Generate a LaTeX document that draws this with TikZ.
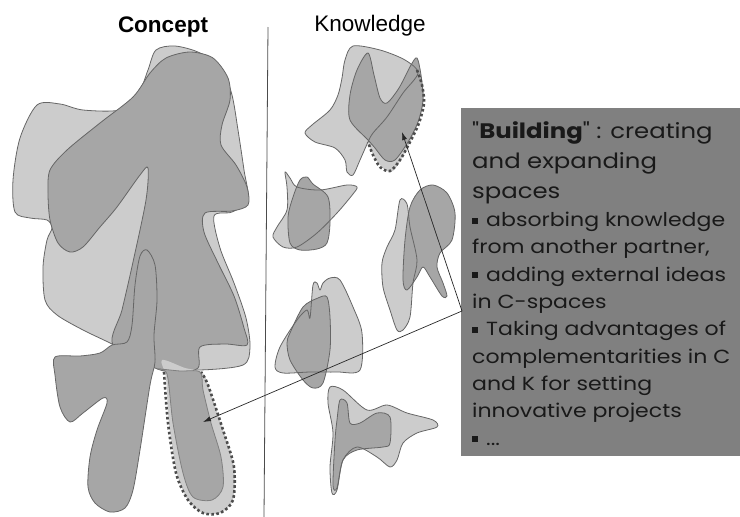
\documentclass[tikz,border=0pt]{standalone}
\usepackage{fontspec}
\setmainfont{Liberation Sans}
\newfontfamily\gothic[FakeStretch=1.16]{Poppins}
\usetikzlibrary{arrows.meta}

\newcommand{\sqb}{\rule[3pt]{6pt}{6pt}\hspace{8pt}}

% concept spaces
\newcommand{\cBig}{plot[smooth cycle] coordinates {(37,105) (60,104) (83,110) (120,110) (138,95) (148,70) (156,50) (175,46) (200,53) (222,70) (232,95) (238,130) (244,170) (248,200) (232,212) (214,216) (220,248) (234,283) (246,318) (250,347) (243,365) (200,370) (160,368) (110,343) (83,330) (57,315) (45,300) (43,267) (47,240) (52,228) (47,220) (30,218) (15,212) (13,180) (20,138)}}
\newcommand{\cBody}{plot[smooth cycle] coordinates {(150,73) (166,58) (190,52) (213,58) (228,78) (230,100) (222,125) (221,145) (236,165) (247,187) (248,205) (232,211) (205,213) (204,232) (218,263) (234,296) (244,328) (247,345) (225,344) (200,347) (198,368) (175,372) (155,368) (113,345) (122,310) (133,262) (146,200) (148,168) (140,175) (117,207) (100,227) (83,247) (70,252) (58,243) (50,220) (48,193) (50,170) (67,150) (100,123) (133,97)}}
\newcommand{\cHand}{plot[smooth cycle] coordinates {(147,250) (155,265) (157,300) (154,335) (155,362) (150,385) (140,450) (133,490) (125,508) (110,512) (95,503) (88,487) (90,457) (97,430) (107,403) (103,398) (83,413) (70,422) (60,407) (55,375) (55,357) (80,356) (100,353) (112,345) (127,342) (132,325) (135,285) (140,256)}}
\newcommand{\cTailNew}{plot[smooth cycle] coordinates {(162,360) (166,378) (169,423) (177,473) (188,500) (203,513) (220,513) (233,500) (234,467) (224,433) (208,385) (202,372) (185,368)}}
\newcommand{\cTail}{plot[smooth cycle] coordinates {(157,369) (167,374) (173,423) (183,473) (193,497) (212,500) (223,487) (221,457) (211,423) (203,390) (200,372) (180,371)}}

% knowledge spaces
\newcommand{\kOneA}{plot[smooth cycle] coordinates {(345,60) (353,46) (380,50) (405,60) (418,73) (403,93) (387,117) (373,133) (368,142) (360,160) (353,175) (347,172) (345,160) (335,148) (315,142) (305,133) (312,125) (330,110) (338,95) (342,78)}}
\newcommand{\kOneB}{plot[smooth cycle] coordinates {(350,120) (350,95) (357,70) (368,53) (374,75) (380,98) (387,103) (399,88) (411,65) (417,58) (421,75) (423,100) (418,122) (408,142) (395,160) (385,160) (375,148) (368,140)}}
\newcommand{\kOneNew}{plot[smooth cycle] coordinates {(368,140) (375,158) (385,170) (393,171) (402,158) (412,138) (421,115) (424,95) (421,78) (417,68) (400,110) (380,135)}}
\newcommand{\kTwoA}{plot[smooth cycle] coordinates {(285,172) (290,178) (297,187) (320,190) (347,185) (357,187) (353,194) (337,213) (317,233) (297,247) (283,247) (273,237) (277,227) (287,210) (287,187)}}
\newcommand{\kTwoB}{plot[smooth cycle] coordinates {(300,180) (307,177) (313,184) (328,197) (330,223) (327,243) (317,249) (300,250) (290,243) (288,217) (293,197)}}
\newcommand{\kThreeA}{plot[smooth cycle] coordinates {(400,200) (407,204) (410,227) (417,260) (413,283) (410,317) (403,330) (397,330) (390,310) (383,287) (382,263) (387,247) (395,230)}}
\newcommand{\kThreeB}{plot[smooth cycle] coordinates {(405,240) (410,207) (420,190) (433,185) (447,193) (455,213) (452,240) (440,253) (437,267) (443,283) (447,296) (442,296) (430,277) (423,267) (417,277) (407,290) (403,280)}}
\newcommand{\kFourA}{plot[smooth cycle] coordinates {(330,278) (340,280) (353,307) (362,333) (360,370) (337,372) (310,372) (283,373) (275,367) (280,347) (297,320) (307,310) (310,318) (313,285) (317,283) (320,290) (323,283)}}
\newcommand{\kFourB}{plot[smooth cycle] coordinates {(290,333) (303,307) (318,298) (327,297) (330,317) (330,350) (323,383) (313,388) (303,380) (290,360) (287,343)}}
\newcommand{\kFiveA}{plot[smooth cycle] coordinates {(330,387) (343,390) (367,410) (387,405) (407,413) (433,420) (437,427) (417,433) (403,443) (397,460) (390,467) (377,457) (357,447) (343,460) (337,490) (332,493) (330,467) (333,433) (328,403)}}
\newcommand{\kFiveB}{plot[smooth cycle] coordinates {(340,400) (347,403) (350,423) (360,423) (377,413) (390,417) (390,443) (383,447) (357,450) (343,460) (337,488) (333,485) (335,440) (337,420)}}

\tikzset{
  lightblob/.style={fill=black!20},
  darkblob/.style={fill=black!35, draw=black!60, line width=0.8pt},
  rim/.style={draw=black!60, line width=0.8pt},
  newpart/.style={draw=black!70, line width=2.6pt, dash pattern=on 2.6pt off 2.4pt},
  link/.style={-{Latex[length=8pt,width=5pt]}, line width=0.7pt, black!85},
  title/.style={font=\fontsize{22.5}{26}\selectfont, anchor=base},
}

\begin{document}
\begin{tikzpicture}[x=1pt, y=-1pt]
  \useasboundingbox (0,0) rectangle (740,517);

  \node[title, font=\bfseries\fontsize{22.5}{26}\selectfont] (concept) at (163,32) {Concept};
  \node[title] (knowledge) at (370,31) {Knowledge};
  \draw[black!70, line width=0.8pt] (268,27) -- (264,517);

  \fill[lightblob] \cBig;  \draw[rim] \cBig;
  \draw[darkblob] \cBody;
  \draw[darkblob] \cHand;
  \fill[lightblob] \cTailNew;
  \draw[newpart] plot[smooth] coordinates {(164,372) (168,423) (176,473) (188,500) (203,513) (220,513) (233,500) (234,467) (224,433) (208,385) (201,372)};
  \draw[darkblob, draw=black!50] \cTail;

  \fill[lightblob] \kOneA;
  \fill[lightblob] \kOneNew;
  \draw[darkblob] \kOneB;
  \draw[rim] \kOneA;
  \draw[newpart] plot[smooth] coordinates {(417,70) (422,85) (424,103) (419,123) (410,142) (400,160) (390,171) (380,167) (373,155) (368,142)};

  \fill[lightblob] \kTwoA;   \draw[darkblob] \kTwoB;   \draw[rim] \kTwoA;
  \fill[lightblob] \kThreeA; \draw[darkblob] \kThreeB; \draw[rim] \kThreeA;
  \fill[lightblob] \kFourA;  \draw[darkblob] \kFourB;  \draw[rim] \kFourA;
  \fill[lightblob] \kFiveA;  \draw[darkblob] \kFiveB;  \draw[rim] \kFiveA;

  \node[fill=black!50, minimum width=279pt, minimum height=348pt, inner sep=0, anchor=north west] (bbox) at (461,108) {};
  \node[anchor=base west, align=left, inner sep=0, text=black!90, font=\gothic\fontsize{21}{30}\selectfont] (head) at (472,198)
    {"\textbf{Building}" : creating\\and expanding\\spaces};
  \node[anchor=base west, align=left, inner sep=0, text=black!90, font=\gothic\fontsize{19}{27.3}\selectfont] (items) at (472,445)
    {\sqb absorbing knowledge\\from another partner,\\\sqb adding external ideas\\in C-spaces\\\sqb Taking advantages of\\complementarities in C\\and K for setting\\innovative projects\\\sqb ...};

  \coordinate (hub) at (462,311);
  \coordinate (tailspot) at (203,422);
  \coordinate (knowspot) at (402,132);
  \draw[link] (hub) -- (tailspot);
  \draw[link] (hub) -- (knowspot);
\end{tikzpicture}
\end{document}
